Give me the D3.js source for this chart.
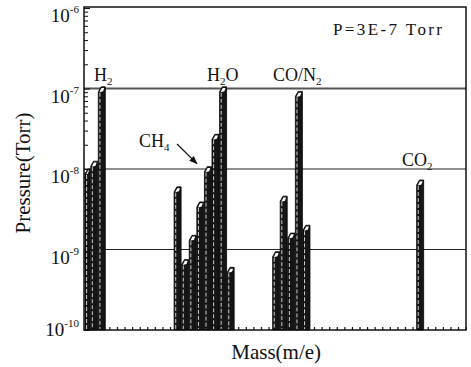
<!DOCTYPE html>
<html>
<head>
<meta charset="utf-8">
<script src="https://cdn.jsdelivr.net/npm/d3@7"></script>
<style>
  body { margin: 0; background: #fff; }
  text { font-family: "Liberation Serif", "DejaVu Serif", serif; fill: #111; }
</style>
</head>
<body>
<div id="chart"></div>
<script>
// Mass peaks (m/e) and their partial pressures (Torr)
const masses    = [0, 1, 2, 12, 13, 14, 15, 16, 17, 18, 19, 25, 26, 27, 28, 29, 44];
const pressures = [1.0e-8, 1.25e-8, 1.05e-7,
                   6.0e-9, 7.5e-10, 1.5e-9, 3.9e-9, 1.07e-8, 2.7e-8, 1.05e-7, 6.0e-10,
                   9.4e-10, 4.6e-9, 1.6e-9, 9.2e-8, 2.0e-9,
                   7.3e-9];

// Axis ticks
const majorTicks = [1e-10, 1e-9, 1e-8, 1e-7, 1e-6];
const majorExps = ["-10", "-9", "-8", "-7", "-6"];
const gridTicks = [1e-9, 1e-8, 1e-7];
const massTicks = d3.range(0, 51);

// Peak labels
const peakNames = ["H", "2", "H", "2", "O", "CO/N", "2", "CO", "2"];

const width = 471, height = 367;
const margin = {left: 84, right: 466, top: 8, bottom: 330};

const svg = d3.select("#chart")
    .append("svg")
    .attr("width", width)
    .attr("height", height);

const x = d3.scaleLinear()
    .domain([-0.35, 50.05])
    .range([margin.left, margin.right]);

const y = d3.scaleLog()
    .domain([1e-10, 1e-6])
    .range([margin.bottom, margin.top]);

// Horizontal reference lines
svg.selectAll(".grid")
    .data(gridTicks)
    .enter()
    .append("line")
    .attr("x1", margin.left)
    .attr("x2", margin.right)
    .attr("y1", d => y(d))
    .attr("y2", d => y(d))
    .attr("stroke", d => d === 1e-7 ? "#555" : "#222")
    .attr("stroke-width", d => d === 1e-7 ? 1.8 : 1.2);

// Minor log ticks on the left axis
const minorTicks = [];
for (let e = -10; e < -6; e++) {
    for (let k = 2; k <= 9; k++) minorTicks.push(k * Math.pow(10, e));
}

svg.append("g")
    .attr("transform", `translate(${margin.left},0)`)
    .call(d3.axisLeft(y).tickValues(minorTicks).tickSize(-4).tickFormat(""))
    .call(g => g.select(".domain").remove())
    .selectAll("line").attr("stroke", "#111");

svg.append("g")
    .attr("transform", `translate(${margin.left},0)`)
    .call(d3.axisLeft(y).tickValues(majorTicks).tickSize(-6).tickFormat(""))
    .call(g => g.select(".domain").remove())
    .selectAll("line").attr("stroke", "#111");

// Small mass ticks along the bottom
svg.append("g")
    .attr("transform", `translate(0,${margin.bottom})`)
    .call(d3.axisBottom(x).tickValues(massTicks).tickSize(-3).tickFormat(""))
    .call(g => g.select(".domain").remove())
    .selectAll("line").attr("stroke", "#111").attr("stroke-width", 1.2);

// Bars with slanted caps
const barW = 7;
const bars = svg.append("g");

masses.forEach((m, i) => {
    const cx = x(m);
    const x0 = Math.max(cx - barW / 2, margin.left + 1);
    const x1 = cx + barW / 2;
    const yt = y(pressures[i]);
    const yb = y(1e-10);

    bars.append("path")
        .attr("d", `M${x0},${yb} L${x0},${yt + 5} L${x0 + 2.8},${yt} L${x1},${yt} L${x1},${yb} Z`)
        .attr("fill", "#151515")
        .attr("stroke", "#000")
        .attr("stroke-width", 0.8);

    // light cap
    bars.append("path")
        .attr("d", `M${x0 + 1.1},${yt + 5.5} L${x0 + 3.2},${yt + 1.3} L${x1 - 1.1},${yt + 1.3} L${x1 - 2.2},${yt + 4.5} Z`)
        .attr("fill", "#fff");

    // speckled highlight down the bar
    bars.append("line")
        .attr("x1", x0 + 1.6)
        .attr("x2", x0 + 1.6)
        .attr("y1", yt + 6)
        .attr("y2", yb - 1)
        .attr("stroke", "#fff")
        .attr("stroke-width", 0.8)
        .attr("stroke-dasharray", "4,2");
});

// Frame
svg.append("rect")
    .attr("x", margin.left)
    .attr("y", margin.top - 1)
    .attr("width", margin.right - margin.left)
    .attr("height", margin.bottom - margin.top + 1)
    .attr("fill", "none")
    .attr("stroke", "#111")
    .attr("stroke-width", 1.5);

// Y tick labels 10^n (superscript level with the tick)
majorTicks.forEach((t, i) => {
    const lab = svg.append("text")
        .attr("x", margin.left - 5)
        .attr("y", Math.min(y(t) + 14, 336))
        .attr("text-anchor", "end")
        .style("font-size", "19px");
    lab.append("tspan").text("10");
    lab.append("tspan")
        .attr("dy", -9)
        .style("font-size", "11px")
        .text(majorExps[i]);
});

// Axis titles
svg.append("text")
    .attr("transform", `translate(30,${(margin.top + margin.bottom) / 2 + 4}) rotate(-90)`)
    .attr("text-anchor", "middle")
    .style("font-size", "21px")
    .text("Pressure(Torr)");

svg.append("text")
    .attr("x", x(25))
    .attr("y", 359)
    .attr("text-anchor", "middle")
    .style("font-size", "21px")
    .text("Mass(m/e)");

// Peak labels with subscripts
function chem(xp, yp, parts) {
    const t = svg.append("text")
        .attr("x", xp)
        .attr("y", yp)
        .style("font-size", "18px");
    parts.forEach(p => {
        t.append("tspan")
            .attr("dy", p[1] ? 4 : (p[2] ? -4 : 0))
            .style("font-size", p[1] ? "11px" : "18px")
            .text(p[0]);
    });
    return t;
}

chem(94, 81, [[peakNames[0]], [peakNames[1], true]]);
chem(207, 81, [[peakNames[2]], [peakNames[3], true], [peakNames[4], false, true]]);
chem(273, 81, [[peakNames[5]], [peakNames[6], true]]);
chem(402, 166, [[peakNames[7]], [peakNames[8], true]]);
chem(139, 147, [["CH"], ["4", true]]);

// Arrow to the CH4 peak
svg.append("defs").append("marker")
    .attr("id", "arr")
    .attr("viewBox", "0 0 10 10")
    .attr("refX", 9).attr("refY", 5)
    .attr("markerWidth", 7).attr("markerHeight", 7)
    .attr("orient", "auto")
    .append("path")
    .attr("d", "M0,1 L10,5 L0,9 Z")
    .attr("fill", "#111");

svg.append("line")
    .attr("x1", 177).attr("y1", 144)
    .attr("x2", x(16) - 11).attr("y2", y(1.07e-8) - 3)
    .attr("stroke", "#111")
    .attr("stroke-width", 1.2)
    .attr("marker-end", "url(#arr)");

// Total pressure note
svg.append("text")
    .attr("x", 333)
    .attr("y", 35)
    .attr("textLength", 109)
    .attr("lengthAdjust", "spacing")
    .style("font-size", "17px")
    .text("P=3E-7 Torr");
</script>
</body>
</html>
